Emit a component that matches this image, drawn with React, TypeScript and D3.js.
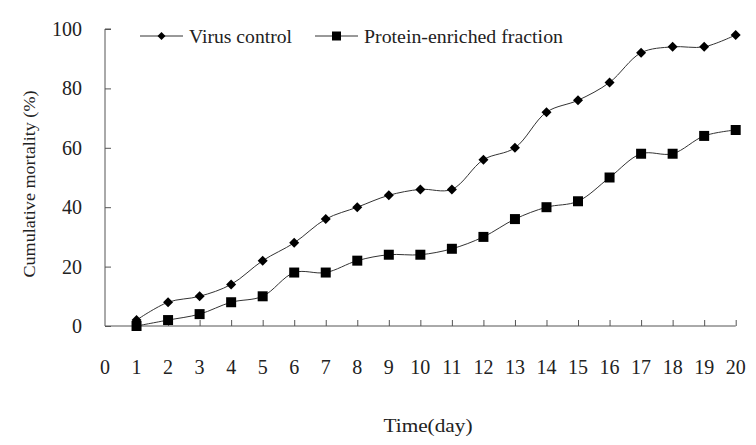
import React from 'react';
import * as d3 from 'd3';

const days = [1, 2, 3, 4, 5, 6, 7, 8, 9, 10, 11, 12, 13, 14, 15, 16, 17, 18, 19, 20];
const virusControl = [2, 8, 10, 14, 22, 28, 36, 40, 44, 46, 46, 56, 60, 72, 76, 82, 92, 94, 94, 98];
const proteinFraction = [0, 2, 4, 8, 10, 18, 18, 22, 24, 24, 26, 30, 36, 40, 42, 50, 58, 58, 64, 66];
const xTicks = d3.range(0, 21);
const yTicks = [0, 20, 40, 60, 80, 100];

const width = 756;
const height = 445;
const margin = { top: 29, right: 20, bottom: 119, left: 105 };

const font = '"Liberation Serif", "Times New Roman", serif';
const textColor = '#222';
const axisColor = '#555';

// diamond as a rotated square (d3's built-in one is too narrow)
const diamondPath = (r: number) => `M0,${-r}L${r},0L0,${r}L${-r},0Z`;
const squarePath = (r: number) => `M${-r},${-r}H${r}V${r}H${-r}Z`;

const App = () => {
  const svgRef = React.useRef<SVGSVGElement | null>(null);

  React.useEffect(() => {
    const svg = d3.select(svgRef.current);
    svg.selectAll('*').remove();

    const chartWidth = 735.7 - margin.left;
    const chartHeight = height - margin.top - margin.bottom;

    const x = d3.scaleLinear().domain([0, 20]).range([0, chartWidth]);
    const y = d3.scaleLinear().domain([0, 100]).range([chartHeight, 0]);

    svg.append('rect').attr('width', width).attr('height', height).attr('fill', '#fff');

    const g = svg.append('g').attr('transform', `translate(${margin.left},${margin.top})`);

    // y axis, ticks pointing inward
    const yAxis = g.append('g').call(d3.axisRight(y).tickValues(yTicks).tickSize(6).tickFormat(() => ''));
    yAxis.select('.domain').attr('stroke', axisColor).attr('d', `M6,0H0V${chartHeight}`);
    yAxis.selectAll('.tick line').attr('stroke', axisColor);

    g.selectAll('.ylabel')
      .data(yTicks)
      .enter()
      .append('text')
      .attr('class', 'ylabel')
      .attr('x', -23)
      .attr('y', d => y(d))
      .attr('dy', '0.35em')
      .attr('text-anchor', 'end')
      .style('font-family', font)
      .style('font-size', '20px')
      .style('fill', textColor)
      .text(d => d);

    // x axis, ticks pointing up
    const xAxis = g
      .append('g')
      .attr('transform', `translate(0,${chartHeight})`)
      .call(d3.axisTop(x).tickValues(xTicks.slice(1)).tickSize(6).tickFormat(() => ''));
    xAxis.select('.domain').attr('stroke', axisColor).attr('d', `M0,0H${chartWidth}`);
    xAxis.selectAll('.tick line').attr('stroke', axisColor);

    g.selectAll('.xlabel')
      .data(xTicks)
      .enter()
      .append('text')
      .attr('class', 'xlabel')
      .attr('x', d => x(d))
      .attr('y', chartHeight + 41)
      .attr('dy', '0.35em')
      .attr('text-anchor', 'middle')
      .style('font-family', font)
      .style('font-size', '20px')
      .style('fill', textColor)
      .text(d => d);

    // axis titles
    svg
      .append('text')
      .attr('transform', `translate(29,184) rotate(-90)`)
      .attr('text-anchor', 'middle')
      .attr('dy', '0.35em')
      .attr('textLength', 187)
      .attr('lengthAdjust', 'spacingAndGlyphs')
      .style('font-family', font)
      .style('font-size', '17px')
      .style('fill', textColor)
      .text('Cumulative mortality (%)');

    svg
      .append('text')
      .attr('x', 428)
      .attr('y', 425)
      .attr('dy', '0.35em')
      .attr('text-anchor', 'middle')
      .attr('textLength', 89)
      .attr('lengthAdjust', 'spacingAndGlyphs')
      .style('font-family', font)
      .style('font-size', '19px')
      .style('fill', textColor)
      .text('Time(day)');

    const line = d3
      .line<number>()
      .x((d, i) => x(days[i]))
      .y(d => y(d))
      .curve(d3.curveCatmullRom.alpha(0.5));

    const series = [
      { values: virusControl, shape: diamondPath(5) },
      { values: proteinFraction, shape: squarePath(5) },
    ];

    series.forEach(s => {
      g.append('path')
        .datum(s.values)
        .attr('d', line)
        .style('fill', 'none')
        .style('stroke', '#333')
        .style('stroke-width', 1);

      g.selectAll(null)
        .data(s.values)
        .enter()
        .append('path')
        .attr('transform', (d, i) => `translate(${x(days[i])},${y(d)})`)
        .attr('d', s.shape)
        .style('fill', '#000');
    });

    // legend
    const legend = [
      { label: 'Virus control', x0: 140, shape: diamondPath(4), len: 103 },
      { label: 'Protein-enriched fraction', x0: 315, shape: squarePath(4.5), len: 199 },
    ];
    const ly = 36;
    legend.forEach(l => {
      svg
        .append('line')
        .attr('x1', l.x0)
        .attr('x2', l.x0 + 43)
        .attr('y1', ly)
        .attr('y2', ly)
        .style('stroke', '#333')
        .style('stroke-width', 1);
      svg
        .append('path')
        .attr('transform', `translate(${l.x0 + 21.5},${ly})`)
        .attr('d', l.shape)
        .style('fill', '#000');
      svg
        .append('text')
        .attr('x', l.x0 + 49)
        .attr('y', ly)
        .attr('dy', '0.35em')
        .attr('textLength', l.len)
        .attr('lengthAdjust', 'spacingAndGlyphs')
        .style('font-family', font)
        .style('font-size', '19px')
        .style('fill', textColor)
        .text(l.label);
    });
  }, []);

  return (
    <div style={{ position: 'absolute', left: 0, top: 0 }}>
      <svg ref={svgRef} width={width} height={height} style={{ display: 'block' }} />
    </div>
  );
};

export default App;
